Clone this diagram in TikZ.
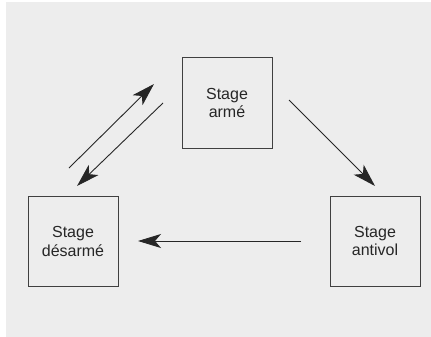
\documentclass[tikz,border=0pt]{standalone}
\usepackage{fontspec}
\setmainfont{Liberation Sans}
\usetikzlibrary{arrows.meta}
\begin{document}
\begin{tikzpicture}[x=1pt,y=-1pt,
  every node/.style={font=\fontsize{16}{18.5}\selectfont,text=black!85},
  stagebox/.style={draw=black!75,line width=1pt,minimum width=90pt,minimum height=90pt,align=center,inner sep=0pt},
  trans/.style={draw=black!85,line width=0.9pt,-{Stealth[length=23pt,width=14pt,inset=6pt]}}]
% background panel
\useasboundingbox (0,0) rectangle (431,337);
\fill[black!7] (6,2) rectangle (431,337);
% the three stages
\node[stagebox] (arme) at (227,103) {Stage\\arm\'e};
\node[stagebox] (desarme) at (73,241.5) {Stage\\d\'esarm\'e};
\node[stagebox] (antivol) at (375,241) {Stage\\antivol};
% free ends of the transitions
\coordinate (d1) at (69,168); \coordinate (a1) at (154,84);
\coordinate (a2) at (163,103); \coordinate (d2) at (77,186);
\coordinate (a3) at (289,100); \coordinate (v3) at (375,186);
\coordinate (v4) at (301,241); \coordinate (d4) at (138,241);
\draw[trans] (d1)--(a1);
\draw[trans] (a2)--(d2);
\draw[trans] (a3)--(v3);
\draw[trans] (v4)--(d4);
\end{tikzpicture}
\end{document}
